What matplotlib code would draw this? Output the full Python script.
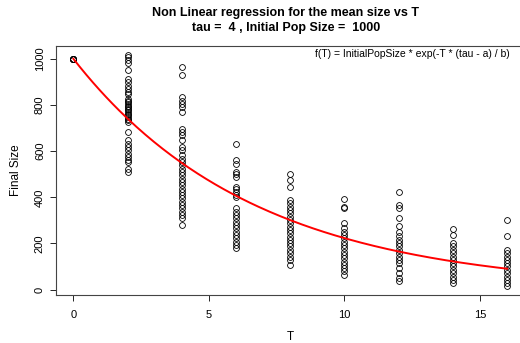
import numpy as np
import matplotlib
matplotlib.use('Agg')
import matplotlib.pyplot as plt

plt.rcParams['font.family'] = ['Liberation Sans', 'DejaVu Sans']

size_t0 = [1000, 1000, 1000, 1000, 1000, 1000]
size_t2 = [1017, 1006, 994, 980, 951, 912, 898, 884, 869, 855, 848, 826, 819, 812, 804,
           797, 790, 783, 776, 769, 761, 755, 747, 740, 733, 725, 682, 647, 632, 618,
           603, 589, 575, 560, 553, 524, 510]
size_t4 = [963, 930, 833, 819, 804, 790, 769, 697, 682, 668, 647, 618, 603, 582, 568,
           553, 539, 524, 510, 496, 481, 467, 453, 438, 425, 409, 395, 381, 366, 352,
           338, 323, 309, 280]
size_t6 = [632, 560, 546, 510, 500, 488, 445, 434, 424, 409, 402, 352, 338, 323, 309,
           294, 280, 266, 251, 237, 223, 208, 194, 180]
size_t8 = [503, 474, 445, 388, 374, 359, 345, 330, 316, 302, 287, 273, 259, 244, 230,
           216, 201, 187, 172, 158, 143, 129, 105]
size_t10 = [391, 359, 355, 287, 266, 251, 237, 223, 208, 194, 180, 165, 151, 137, 122,
            108, 94, 79, 65]
size_t12 = [424, 366, 352, 309, 276, 251, 233, 216, 201, 187, 172, 158, 143, 129, 115,
            94, 72, 50, 36]
size_t14 = [261, 237, 201, 187, 172, 158, 143, 129, 115, 101, 86, 72, 57, 43, 29]
size_t16 = [302, 234, 172, 158, 143, 129, 115, 101, 86, 72, 57, 43, 29, 17]

t_values = [0, 2, 4, 6, 8, 10, 12, 14, 16]
sizes = [size_t0, size_t2, size_t4, size_t6, size_t8, size_t10, size_t12, size_t14, size_t16]

# fitted model: f(T) = InitialPopSize * exp(-T * (tau - a) / b)
init_pop = 1000
tau = 4
a_fit = 1.0
b_fit = 20.0

fig = plt.figure(figsize=(5.2, 3.43), dpi=100)
ax = fig.add_axes([0.1077, 0.140, 0.9010, 0.727])

for t, s in zip(t_values, sizes):
    ax.plot([t] * len(s), s, 'o', mfc='none', mec='black', ms=4.2, mew=0.6)

tt = np.linspace(0, 16, 200)
ax.plot(tt, init_pop * np.exp(-tt * (tau - a_fit) / b_fit), color='red', lw=1.4)

ax.set_xlim(-0.64, 16.64)
ax.set_ylim(-23, 1057)
ax.set_xticks([0, 5, 10, 15])
ax.set_yticks([0, 200, 400, 600, 800, 1000])
ax.tick_params(axis='both', direction='out', length=4, width=0.6, labelsize=8)
ax.tick_params(axis='x', pad=7)
ax.tick_params(axis='y', pad=4)
for lbl in ax.get_yticklabels():
    lbl.set_rotation(90)
    lbl.set_va('center')
for sp in ax.spines.values():
    sp.set_linewidth(0.8)
    sp.set_color('#444444')

ax.set_xlabel('T', fontsize=8.5, labelpad=8)
ax.set_ylabel('Final Size', fontsize=8.5, labelpad=9)
fig.text(0.55, 0.963, 'Non Linear regression for the mean size vs T', ha='center', va='center',
         fontsize=9, fontweight='bold')
fig.text(0.55, 0.918, 'tau =  4 , Initial Pop Size =  1000', ha='center', va='center',
         fontsize=9, fontweight='bold')
ax.text(0.968, 0.965, 'f(T) = InitialPopSize * exp(-T * (tau - a) / b)', transform=ax.transAxes,
        ha='right', va='center', fontsize=7.5)

fig.savefig('out.png', dpi=100)
